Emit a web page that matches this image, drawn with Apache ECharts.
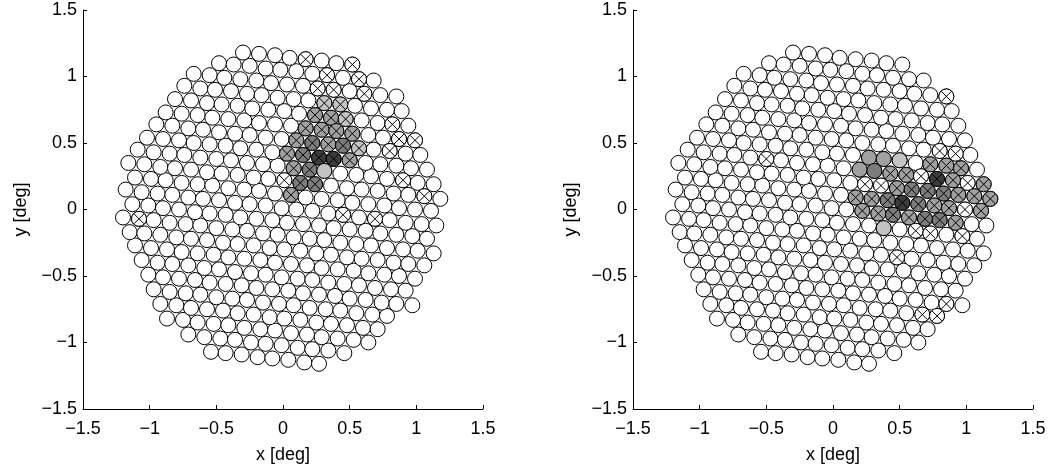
<!DOCTYPE html>
<html><head><meta charset="utf-8">
<script src="https://cdn.jsdelivr.net/npm/echarts@6/dist/echarts.min.js"></script>
<style>html,body{margin:0;padding:0;background:#fff}#c{width:1050px;height:469px}</style>
</head><body><div id="c"></div>
<script>
// cone centres [x deg, y deg] (same mosaic in both panels)
const cones = [
[-0.54,-1.07],[-0.43,-1.08],[-0.31,-1.09],[-0.19,-1.11],[-0.08,-1.12],[0.04,-1.13],[0.16,-1.15],[0.27,-1.16],
[-0.71,-0.94],[-0.59,-0.96],[-0.47,-0.97],[-0.36,-0.98],[-0.24,-1.00],[-0.13,-1.01],[-0.01,-1.02],[0.11,-1.04],[0.22,-1.05],[0.34,-1.06],[0.46,-1.08],
[-0.87,-0.82],[-0.75,-0.83],[-0.64,-0.85],[-0.52,-0.86],[-0.41,-0.87],[-0.29,-0.89],[-0.17,-0.90],[-0.06,-0.91],[0.06,-0.93],[0.18,-0.94],[0.29,-0.96],[0.41,-0.97],[0.53,-0.98],[0.64,-1.00],
[-0.92,-0.71],[-0.80,-0.72],[-0.69,-0.74],[-0.57,-0.75],[-0.45,-0.76],[-0.34,-0.78],[-0.22,-0.79],[-0.10,-0.81],[0.01,-0.82],[0.13,-0.83],[0.25,-0.85],[0.36,-0.86],[0.48,-0.87],[0.60,-0.89],[0.71,-0.90],
[-0.97,-0.60],[-0.85,-0.62],[-0.73,-0.63],[-0.62,-0.64],[-0.50,-0.66],[-0.38,-0.67],[-0.27,-0.68],[-0.15,-0.70],[-0.03,-0.71],[0.08,-0.72],[0.20,-0.74],[0.32,-0.75],[0.43,-0.76],[0.55,-0.78],[0.67,-0.79],[0.78,-0.80],
[-1.01,-0.49],[-0.90,-0.51],[-0.78,-0.52],[-0.66,-0.53],[-0.55,-0.55],[-0.43,-0.56],[-0.31,-0.57],[-0.20,-0.59],[-0.08,-0.60],[0.04,-0.61],[0.15,-0.63],[0.27,-0.64],[0.39,-0.65],[0.50,-0.67],[0.62,-0.68],[0.74,-0.70],[0.85,-0.71],[0.97,-0.72],
[-1.06,-0.38],[-0.94,-0.40],[-0.83,-0.41],[-0.71,-0.42],[-0.59,-0.44],[-0.48,-0.45],[-0.36,-0.47],[-0.24,-0.48],[-0.13,-0.49],[-0.01,-0.51],[0.11,-0.52],[0.22,-0.53],[0.34,-0.55],[0.46,-0.56],[0.57,-0.57],[0.69,-0.59],[0.81,-0.60],[0.92,-0.61],
[-1.11,-0.27],[-0.99,-0.29],[-0.87,-0.30],[-0.76,-0.32],[-0.64,-0.33],[-0.52,-0.34],[-0.41,-0.36],[-0.29,-0.37],[-0.17,-0.38],[-0.06,-0.40],[0.06,-0.41],[0.18,-0.42],[0.29,-0.44],[0.41,-0.45],[0.53,-0.46],[0.64,-0.48],[0.76,-0.49],[0.87,-0.50],[0.99,-0.52],
[-1.15,-0.17],[-1.04,-0.18],[-0.92,-0.19],[-0.80,-0.21],[-0.69,-0.22],[-0.57,-0.23],[-0.45,-0.25],[-0.34,-0.26],[-0.22,-0.27],[-0.10,-0.29],[0.01,-0.30],[0.13,-0.31],[0.25,-0.33],[0.36,-0.34],[0.48,-0.36],[0.59,-0.37],[0.71,-0.38],[0.83,-0.40],[0.94,-0.41],[1.06,-0.42],
[-1.20,-0.06],[-1.08,-0.07],[-0.97,-0.08],[-0.85,-0.10],[-0.73,-0.11],[-0.62,-0.12],[-0.50,-0.14],[-0.38,-0.15],[-0.27,-0.16],[-0.15,-0.18],[-0.04,-0.19],[0.08,-0.21],[0.20,-0.22],[0.31,-0.23],[0.43,-0.25],[0.55,-0.26],[0.66,-0.27],[0.78,-0.29],[0.90,-0.30],[1.01,-0.31],[1.13,-0.33],
[-1.13,0.04],[-1.01,0.03],[-0.90,0.01],[-0.78,0.00],[-0.66,-0.02],[-0.55,-0.03],[-0.43,-0.04],[-0.32,-0.06],[-0.20,-0.07],[-0.08,-0.08],[0.03,-0.10],[0.15,-0.11],[0.27,-0.12],[0.38,-0.14],[0.50,-0.15],[0.62,-0.16],[0.73,-0.18],[0.85,-0.19],[0.97,-0.20],[1.08,-0.22],
[-1.18,0.15],[-1.06,0.13],[-0.94,0.12],[-0.83,0.11],[-0.71,0.09],[-0.60,0.08],[-0.48,0.07],[-0.36,0.05],[-0.25,0.04],[-0.13,0.03],[-0.01,0.01],[0.10,0.00],[0.22,-0.01],[0.34,-0.03],[0.45,-0.04],[0.57,-0.06],[0.69,-0.07],[0.80,-0.08],[0.92,-0.10],[1.04,-0.11],[1.15,-0.12],
[-1.11,0.24],[-0.99,0.23],[-0.88,0.22],[-0.76,0.20],[-0.64,0.19],[-0.53,0.18],[-0.41,0.16],[-0.29,0.15],[-0.18,0.14],[-0.06,0.12],[0.06,0.11],[0.17,0.09],[0.29,0.08],[0.41,0.07],[0.52,0.05],[0.64,0.04],[0.76,0.03],[0.87,0.01],[0.99,0.00],[1.11,-0.01],
[-1.16,0.35],[-1.04,0.34],[-0.92,0.32],[-0.81,0.31],[-0.69,0.30],[-0.57,0.28],[-0.46,0.27],[-0.34,0.26],[-0.22,0.24],[-0.11,0.23],[0.01,0.22],[0.13,0.20],[0.24,0.19],[0.36,0.18],[0.48,0.16],[0.59,0.15],[0.71,0.14],[0.83,0.12],[0.94,0.11],[1.06,0.10],[1.18,0.08],
[-1.09,0.45],[-0.97,0.43],[-0.85,0.42],[-0.74,0.41],[-0.62,0.39],[-0.50,0.38],[-0.39,0.37],[-0.27,0.35],[-0.15,0.34],[-0.04,0.33],[0.08,0.31],[0.20,0.30],[0.31,0.29],[0.43,0.27],[0.55,0.26],[0.66,0.25],[0.78,0.23],[0.90,0.22],[1.01,0.20],[1.13,0.19],
[-1.02,0.54],[-0.90,0.53],[-0.78,0.52],[-0.67,0.50],[-0.55,0.49],[-0.43,0.48],[-0.32,0.46],[-0.20,0.45],[-0.08,0.43],[0.03,0.42],[0.15,0.41],[0.27,0.39],[0.38,0.38],[0.50,0.37],[0.62,0.35],[0.73,0.34],[0.85,0.33],[0.96,0.31],[1.08,0.30],
[-0.95,0.64],[-0.83,0.63],[-0.71,0.61],[-0.60,0.60],[-0.48,0.58],[-0.36,0.57],[-0.25,0.56],[-0.13,0.54],[-0.01,0.53],[0.10,0.52],[0.22,0.50],[0.34,0.49],[0.45,0.48],[0.57,0.46],[0.68,0.45],[0.80,0.44],[0.92,0.42],[1.03,0.41],
[-0.88,0.73],[-0.76,0.72],[-0.64,0.71],[-0.53,0.69],[-0.41,0.68],[-0.29,0.67],[-0.18,0.65],[-0.06,0.64],[0.06,0.63],[0.17,0.61],[0.29,0.60],[0.40,0.59],[0.52,0.57],[0.64,0.56],[0.75,0.54],[0.87,0.53],[0.99,0.52],
[-0.81,0.83],[-0.69,0.82],[-0.57,0.80],[-0.46,0.79],[-0.34,0.78],[-0.23,0.76],[-0.11,0.75],[0.01,0.74],[0.12,0.72],[0.24,0.71],[0.36,0.69],[0.47,0.68],[0.59,0.67],[0.71,0.65],[0.82,0.64],[0.94,0.63],
[-0.74,0.93],[-0.62,0.91],[-0.51,0.90],[-0.39,0.89],[-0.27,0.87],[-0.16,0.86],[-0.04,0.84],[0.08,0.83],[0.19,0.82],[0.31,0.80],[0.43,0.79],[0.54,0.78],[0.66,0.76],[0.78,0.75],[0.89,0.74],
[-0.67,1.02],[-0.55,1.01],[-0.44,0.99],[-0.32,0.98],[-0.20,0.97],[-0.09,0.95],[0.03,0.94],[0.15,0.93],[0.26,0.91],[0.38,0.90],[0.50,0.89],[0.61,0.87],[0.73,0.86],[0.85,0.85],
[-0.48,1.10],[-0.37,1.09],[-0.25,1.08],[-0.13,1.06],[-0.02,1.05],[0.10,1.04],[0.22,1.02],[0.33,1.01],[0.45,0.99],[0.57,0.98],[0.68,0.97],
[-0.30,1.18],[-0.18,1.17],[-0.06,1.16],[0.05,1.14],[0.17,1.13],[0.29,1.12],[0.40,1.10],[0.52,1.09]
];
// marked cones: [x, y, shade level (0 white .. 4 darkest), crossed (1/0)]
const leftMarks = [
[0.17,1.13,0,1],[0.52,1.09,0,1],[0.33,1.01,0,1],[0.57,0.98,0,1],[0.26,0.91,0,1],[0.38,0.90,0,1],[0.61,0.87,0,1],
[0.31,0.80,1,1],[0.43,0.79,1,1],[0.24,0.71,2,1],[0.36,0.69,2,1],[0.47,0.68,1,1],[0.17,0.61,2,1],[0.29,0.60,2,1],[0.40,0.59,2,1],[0.52,0.57,2,1],
[0.10,0.52,2,1],[0.22,0.50,3,1],[0.34,0.49,2,1],[0.45,0.48,3,1],[0.57,0.46,1,1],[0.03,0.42,2,1],[0.15,0.41,3,1],[0.27,0.39,4,1],[0.38,0.38,4,1],[0.50,0.37,2,1],
[0.08,0.31,2,1],[0.20,0.30,3,1],[0.31,0.29,1,0],[0.13,0.20,3,1],[0.24,0.19,3,1],[0.01,0.22,0,1],[0.06,0.11,2,1],
[0.82,0.64,0,1],[0.87,0.53,0,1],[0.99,0.52,0,1],[0.80,0.44,0,1],[0.90,0.22,0,1],[1.06,0.10,0,1],[0.45,-0.04,0,1],[0.69,-0.07,0,1],[-1.08,-0.07,0,1]
];
const rightMarks = [
[0.85,0.85,0,1],[-0.50,0.38,0,1],
[0.27,0.39,2,0],[0.38,0.38,2,0],[0.50,0.37,1,0],[0.73,0.34,2,1],[0.85,0.33,2,1],[0.96,0.31,2,1],
[0.80,0.44,0,1],[0.92,0.42,0,1],
[0.20,0.30,2,0],[0.31,0.29,3,0],[0.43,0.27,2,1],[0.55,0.26,2,1],[0.66,0.25,0,1],[0.78,0.23,4,1],[0.90,0.22,2,1],[1.01,0.20,0,1],[1.13,0.19,2,1],
[0.24,0.19,0,1],[0.36,0.18,0,1],[0.48,0.16,2,1],[0.59,0.15,3,1],[0.71,0.14,3,1],[0.83,0.12,3,1],[0.94,0.11,2,1],[1.06,0.10,2,1],[1.18,0.08,2,1],
[0.17,0.09,2,1],[0.29,0.08,2,1],[0.41,0.07,3,1],[0.52,0.05,4,1],[0.64,0.04,3,1],[0.76,0.03,2,1],[0.87,0.01,2,1],[0.99,0.00,0,1],[1.11,-0.01,2,1],
[0.22,-0.01,2,1],[0.34,-0.03,2,1],[0.45,-0.04,3,1],[0.57,-0.06,2,1],[0.69,-0.07,3,1],[0.80,-0.08,3,1],[0.92,-0.10,2,1],
[0.38,-0.14,1,0],[0.62,-0.16,0,1],[0.73,-0.18,0,1],[0.97,-0.20,0,1],[0.48,-0.36,0,1],[0.85,-0.71,0,1],[0.67,-0.79,0,1],[0.78,-0.80,0,1]
];
const shades = ['#ffffff','#c4c4c4','#a0a0a0','#7c7c7c','#3c3c3c'];
const tickValues = [-1.5,-1,-0.5,0,0.5,1,1.5];
const xName = 'x [deg]', yName = 'y [deg]';

const fmt = v => (v < 0 ? '\u2212' + String(Math.abs(v)) : String(v));
const font = 'Liberation Sans, Arial, Helvetica, sans-serif';
function axisCommon(isX, idx, name) {
  return {
    type: 'value', gridIndex: idx, min: tickValues[0], max: tickValues[tickValues.length - 1], interval: 0.5,
    name: name, nameLocation: 'middle', nameGap: isX ? 37 : 53,
    nameTextStyle: { color: '#000', fontSize: 18, fontFamily: font },
    axisLine: { onZero: false, lineStyle: { color: '#000', width: 1 } },
    axisTick: { inside: true, length: 4, lineStyle: { color: '#000' } },
    axisLabel: { color: '#000', fontSize: 18, fontFamily: font, margin: isX ? 11 : 6, formatter: fmt },
    splitLine: { show: false }
  };
}
const crossPath = 'path://M0,0L10,10M0,10L10,0';
function panel(idx, marks) {
  const base = {
    type: 'scatter', xAxisIndex: idx, yAxisIndex: idx, symbol: 'circle', symbolSize: 15,
    data: cones, silent: true, z: 2,
    itemStyle: { color: '#fff', borderColor: '#000', borderWidth: 1, opacity: 1 }
  };
  const filled = {
    type: 'scatter', xAxisIndex: idx, yAxisIndex: idx, symbol: 'circle', symbolSize: 15, silent: true, z: 3,
    data: marks.map(m => ({ value: [m[0], m[1]], itemStyle: { color: shades[m[2]] } })),
    itemStyle: { borderColor: '#000', borderWidth: 1, opacity: 1 }
  };
  const crosses = {
    type: 'scatter', xAxisIndex: idx, yAxisIndex: idx, symbol: crossPath, symbolSize: 10, silent: true, z: 4,
    data: marks.filter(m => m[3] === 1).map(m => [m[0], m[1]]),
    itemStyle: { color: 'rgba(0,0,0,0)', borderColor: '#000', borderWidth: 1, opacity: 1 }
  };
  return [base, filled, crosses];
}
const chart = echarts.init(document.getElementById('c'), null, { renderer: 'canvas' });
chart.setOption({
  animation: false,
  backgroundColor: '#fff',
  grid: [
    { left: 83, top: 10, width: 400, height: 399 },
    { left: 633, top: 10, width: 400, height: 399 }
  ],
  xAxis: [axisCommon(true, 0, xName), axisCommon(true, 1, xName)],
  yAxis: [axisCommon(false, 0, yName), axisCommon(false, 1, yName)],
  series: [].concat(panel(0, leftMarks), panel(1, rightMarks))
});
</script></body></html>
